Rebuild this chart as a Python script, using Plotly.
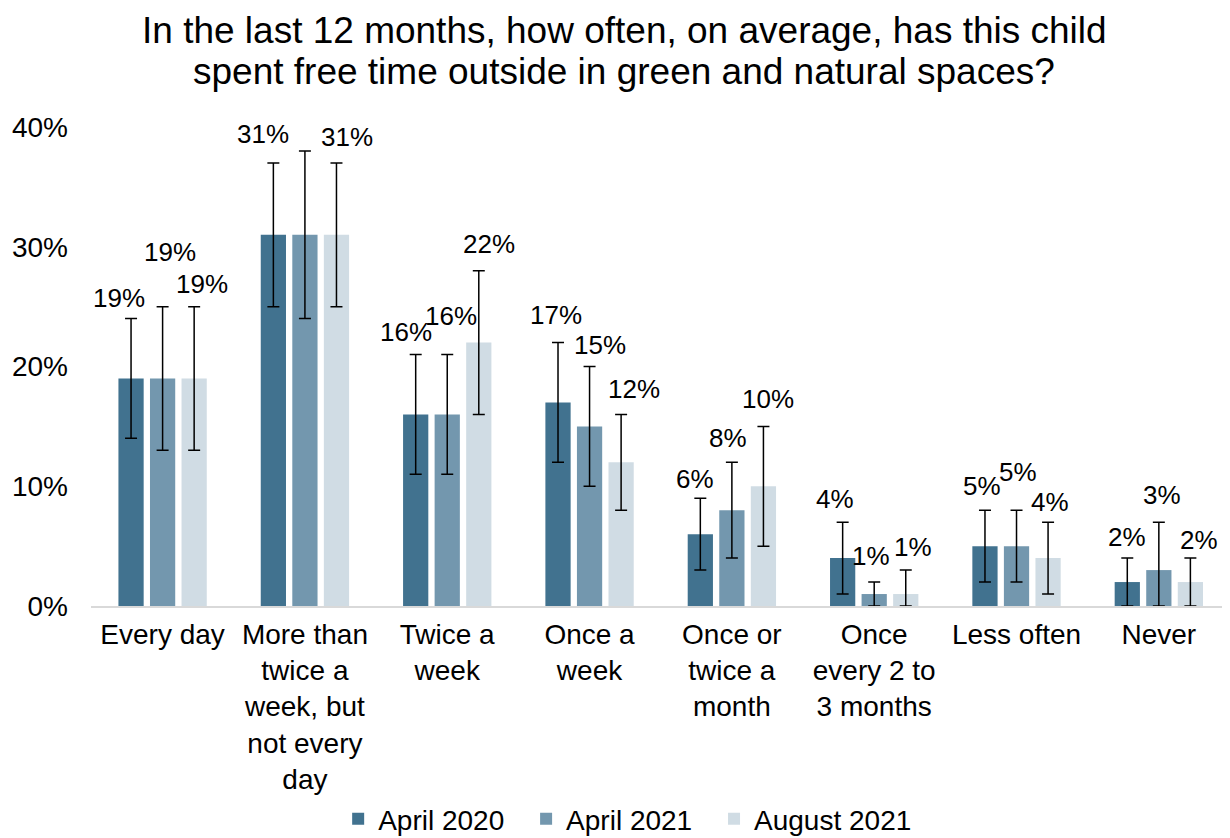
import plotly.graph_objects as go

categories = ["Every day", "More than<br>twice a<br>week, but<br>not every<br>day", "Twice a<br>week",
              "Once a<br>week", "Once or<br>twice a<br>month", "Once<br>every 2 to<br>3 months",
              "Less often", "Never"]
series_names = ["April 2020", "April 2021", "August 2021"]
values_2020 = [19, 31, 16, 17, 6, 4, 5, 2]
values_apr2021 = [19, 31, 16, 15, 8, 1, 5, 3]
values_aug2021 = [19, 31, 22, 12, 10, 1, 4, 2]
upper_2020 = [24, 37, 21, 22, 9, 7, 8, 4]
lower_2020 = [14, 25, 11, 12, 3, 1, 2, 0]
upper_apr2021 = [25, 38, 21, 20, 12, 2, 8, 7]
lower_apr2021 = [13, 24, 11, 10, 4, 0, 2, 0]
upper_aug2021 = [25, 37, 28, 16, 15, 3, 7, 4]
lower_aug2021 = [13, 25, 16, 8, 5, 0, 1, 0]
y_ticks = [0, 10, 20, 30, 40]
title_lines = ["In the last 12 months, how often, on average, has this child",
               "spent free time outside in green and natural spaces?"]

# label placement (heights in % units, horizontal nudges in px)
label_y_2020 = [25.7, 39.4, 22.9, 24.3, 10.6, 8.9, 10.0, 5.75]
label_y_apr2021 = [29.6, 41.9, 24.2, 21.8, 14.0, 4.2, 11.2, 9.3]
label_y_aug2021 = [26.9, 39.2, 30.25, 18.1, 17.3, 4.9, 8.7, 5.5]
label_dx_2020 = [-12, -10, -10, -2, -5, -8, -3, 0]
label_dx_apr2021 = [7, 3, 4, 10, -4, -3, 1, 3]
label_dx_aug2021 = [8, 10, 10, 13, 5, 7, 2, 9]

colors = ["#41728F", "#7397AE", "#D0DCE4"]
FONT = "Liberation Sans, Arial, sans-serif"
legend_ids = ["legend", "legend2", "legend3"]
legend_x = [0.217, 0.382, 0.547]
title_line_y = [1.2015, 1.1169]

vals = [values_2020, values_apr2021, values_aug2021]
ups = [upper_2020, upper_apr2021, upper_aug2021]
lows = [lower_2020, lower_apr2021, lower_aug2021]
lys = [label_y_2020, label_y_apr2021, label_y_aug2021]
ldx = [label_dx_2020, label_dx_apr2021, label_dx_aug2021]

fig = go.Figure()
for name, v, u, lo, c, lg in zip(series_names, vals, ups, lows, colors, legend_ids):
    fig.add_trace(go.Bar(
        name=name, x=categories, y=v, marker_color=c, marker_line_width=0,
        legend=lg,
        error_y=dict(type="data", symmetric=False,
                     array=[a - b for a, b in zip(u, v)],
                     arrayminus=[b - a for a, b in zip(lo, v)],
                     color="#000000", thickness=1.5, width=6),
    ))

slot_px = 31.6
offsets = [-slot_px, 0, slot_px]
for s in range(3):
    for i, cat in enumerate(categories):
        fig.add_annotation(
            x=cat, y=lys[s][i], xref="x", yref="y",
            text=f"{vals[s][i]}%", showarrow=False,
            xshift=offsets[s] + ldx[s][i], yanchor="middle",
            font=dict(size=26, color="#000000", family=FONT),
        )

# chart title, one text per line
for line, ly in zip(title_lines, title_line_y):
    fig.add_annotation(x=0.468, y=ly, xref="paper", yref="paper", xanchor="center", yanchor="middle",
                       text=line, showarrow=False,
                       font=dict(size=37, color="#000000", family=FONT))

legend_style = dict(orientation="h", xanchor="left", y=-0.445, yanchor="middle",
                    font=dict(size=28, color="#000000", family=FONT), itemwidth=30,
                    bgcolor="rgba(0,0,0,0)")

fig.update_layout(
    width=1222, height=830,
    margin=dict(l=83, r=0, t=119, b=232, autoexpand=False),
    paper_bgcolor="white", plot_bgcolor="white",
    barmode="group", bargap=0.335, bargroupgap=0.2,
    font=dict(family=FONT, size=28, color="#000000"),
    showlegend=True,
    legend=dict(x=legend_x[0], **legend_style),
    legend2=dict(x=legend_x[1], **legend_style),
    legend3=dict(x=legend_x[2], **legend_style),
    xaxis=dict(showline=True, linecolor="#D9D9D9", linewidth=2, ticks="",
               tickfont=dict(size=28), showgrid=False, ticklabelstandoff=2, automargin=False),
    yaxis=dict(range=[0, 40], tickvals=y_ticks, ticktext=[f"{t}%" for t in y_ticks],
               showgrid=False, zeroline=False, showline=False, ticks="",
               tickfont=dict(size=28), ticklabelstandoff=22, automargin=False),
)

fig.write_html("out.html")
